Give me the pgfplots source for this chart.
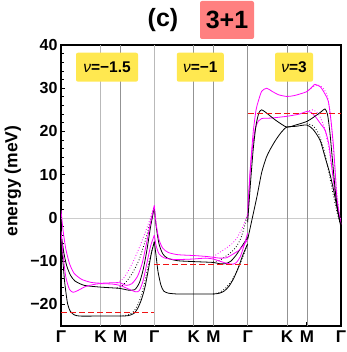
\documentclass[border=0pt]{standalone}
\usepackage{fontspec}
\setmainfont{Liberation Sans}
\usepackage{pgfplots}
\pgfplotsset{compat=1.18}
\definecolor{ybox}{RGB}{255,232,80}
\definecolor{rbox}{RGB}{255,128,128}
\definecolor{mag}{RGB}{255,0,255}
\definecolor{redd}{RGB}{240,20,20}
\begin{document}
\begin{tikzpicture}
\useasboundingbox (-61pt,-26pt) rectangle (285pt,326pt);
\begin{axis}[
  at={(0pt,0pt)}, anchor=south west,
  scale only axis, width=280pt, height=281pt,
  xmin=0, xmax=3, ymin=-25, ymax=40,
  xtick={0,0.4226,0.6340,1,1.4226,1.6340,2,2.4226,2.6340,3},
  xticklabels={Γ,K,M,Γ,K,M,Γ,K,M,Γ},
  ytick={-20,-10,0,10,20,30,40},
  yticklabels={−20,−10,0,10,20,30,40},
  minor y tick num=4,
  tick align=inside, ytick pos=left, xtick pos=bottom,
  major tick length=4pt, minor tick length=2.5pt,
  tick style={black, line width=0.8pt},
  yticklabel style={font=\fontsize{16}{19}\selectfont\bfseries},
  xticklabel style={font=\fontsize{17}{20}\selectfont\bfseries, yshift=-1pt},
  axis line style={black, line width=1.2pt},
  every axis plot/.append style={line width=0.8pt},
]
% reference lines
\addplot[gray!40, line width=0.6pt] coordinates {(0,0) (3,0)};
\addplot[gray!55, line width=1.1pt] coordinates {(0.4226,-25) (0.4226,40)};
\addplot[gray!85, line width=0.6pt] coordinates {(0.6340,-25) (0.6340,40)};
\addplot[gray!55, line width=1.1pt] coordinates {(1,-25) (1,40)};
\addplot[gray!85, line width=0.6pt] coordinates {(1.4226,-25) (1.4226,40)};
\addplot[gray!85, line width=0.6pt] coordinates {(1.6340,-25) (1.6340,40)};
\addplot[gray!85, line width=0.6pt] coordinates {(2,-25) (2,40)};
\addplot[gray!85, line width=0.6pt] coordinates {(2.4226,-25) (2.4226,40)};
\addplot[gray!85, line width=0.6pt] coordinates {(2.6340,-25) (2.6340,40)};
% ---------------- panel 1 ----------------
\addplot[black, smooth, tension=0.4] coordinates {
(0,-5.5) (0.02,-10) (0.04,-15) (0.07,-19.8) (0.1,-21.6) (0.14,-22.4) (0.2,-22.7) (0.42,-22.7) (0.63,-22.7) (0.72,-22.6) (0.78,-22.1) (0.82,-21) (0.86,-19) (0.9,-16) (0.94,-11.5) (0.97,-8) (1,-5.5)};
\addplot[black, dotted, smooth, tension=0.4] coordinates {
(0.63,-22.7) (0.72,-22.4) (0.78,-21.6) (0.82,-20.2) (0.86,-18) (0.9,-14.5) (0.94,-10.5) (1,-5.5)};
\addplot[black, smooth, tension=0.4] coordinates {
(0,-3.5) (0.03,-8) (0.06,-11) (0.1,-13.2) (0.15,-14.6) (0.25,-15.6) (0.42,-16) (0.63,-16.3) (0.72,-16.7) (0.79,-16.6) (0.84,-15) (0.88,-12) (0.92,-7.5) (0.96,-2) (1,2.5)};
\addplot[black, dotted, smooth, tension=0.4] coordinates {
(0.6,-16.2) (0.66,-15.6) (0.72,-14.2) (0.78,-12.2) (0.84,-9.5) (0.9,-5.5) (0.95,-1.5) (1,2.5)};
\addplot[mag, smooth, tension=0.4] coordinates {
(0,1.8) (0.02,-2.5) (0.05,-7) (0.09,-10.5) (0.14,-12.8) (0.22,-14.2) (0.32,-14.9) (0.42,-15.1) (0.55,-15) (0.63,-15) (0.7,-15.6) (0.76,-15.2) (0.82,-13.5) (0.87,-10.5) (0.92,-5.5) (0.96,-1) (1,2.9)};
\addplot[mag, smooth, tension=0.4] coordinates {
(0,-3) (0.02,-8) (0.05,-13.5) (0.09,-16.5) (0.13,-17.2) (0.18,-16.8) (0.26,-15.9) (0.35,-15.4) (0.42,-15.2) (0.55,-15.3) (0.63,-15.6) (0.72,-16.4) (0.8,-17.1) (0.84,-16.8) (0.88,-14.5) (0.92,-10.5) (0.96,-6.5) (1,-4)};
\addplot[mag, dotted, smooth, tension=0.4] coordinates {
(0.6,-15) (0.66,-14.2) (0.72,-12.3) (0.78,-9.8) (0.84,-6.8) (0.9,-3.5) (0.95,-0.5) (1,2.9)};
% ---------------- panel 2 ----------------
\addplot[black, smooth, tension=0.4] coordinates {
(1,-5.5) (1.02,-9) (1.04,-12.5) (1.07,-15.5) (1.1,-16.9) (1.15,-17.4) (1.25,-17.6) (1.42,-17.6) (1.63,-17.6) (1.7,-17.4) (1.75,-16.9) (1.8,-15.8) (1.85,-14) (1.9,-11.5) (1.95,-8.5) (2,-6)};
\addplot[black, dotted, smooth, tension=0.4] coordinates {
(1.63,-17.6) (1.7,-17.2) (1.76,-16.3) (1.82,-14.8) (1.88,-12.5) (1.94,-9.5) (2,-6)};
\addplot[black, smooth, tension=0.4] coordinates {
(1,2.2) (1.02,-2) (1.05,-6) (1.09,-8.3) (1.14,-9.3) (1.25,-9.9) (1.42,-10.1) (1.63,-10.3) (1.7,-10.6) (1.76,-10.6) (1.82,-10) (1.88,-8.5) (1.94,-6.5) (2,-4.5)};
\addplot[black, dotted, smooth, tension=0.4] coordinates {
(1.63,-10.2) (1.7,-9.8) (1.776,-8.7) (1.83,-7.8) (1.883,-6.5) (1.93,-4.5) (1.97,-1.6) (2,1)};
\addplot[mag, smooth, tension=0.4] coordinates {
(1,2.8) (1.02,-1.5) (1.05,-5) (1.09,-7) (1.15,-8) (1.25,-8.5) (1.42,-8.7) (1.55,-8.9) (1.63,-9.1) (1.7,-9.3) (1.776,-9.2) (1.84,-8.4) (1.9,-7.6) (1.95,-6.5) (2,-5)};
\addplot[mag, smooth, tension=0.4] coordinates {
(1,-4) (1.02,-6.5) (1.05,-8.3) (1.1,-9.2) (1.2,-9.6) (1.3,-9.6) (1.42,-9.5) (1.55,-9.3) (1.63,-9.5) (1.7,-10) (1.776,-10.5) (1.84,-10.7) (1.88,-10.3) (1.92,-9) (1.96,-6.5) (2,-3.5)};
\addplot[mag, dotted, smooth, tension=0.4] coordinates {
(1.63,-9) (1.704,-7.9) (1.77,-7) (1.83,-6) (1.88,-4.8) (1.917,-3.4) (1.96,-1.5) (2,1)};
% ---------------- panel 3 ----------------
\addplot[mag, smooth, tension=0.4] coordinates {
(2,2) (2.03,12) (2.06,20) (2.09,25) (2.114,27) (2.15,29.3) (2.204,30) (2.26,29.3) (2.33,28.5) (2.418,28.1) (2.5,28.3) (2.632,29.2) (2.69,30.3) (2.72,30.9) (2.78,30.3) (2.83,28.6) (2.864,27) (2.89,23) (2.918,17) (2.94,10) (2.954,5) (2.98,1) (3,-1.5)};
\addplot[mag, dotted, smooth, tension=0.4] coordinates {
(2.632,29.2) (2.7,30.3) (2.75,30.8) (2.8,30.2) (2.85,28.5) (2.885,24) (2.91,18) (2.94,10) (2.97,3) (3,-1.5)};
\addplot[mag, smooth, tension=0.4] coordinates {
(2,0) (2.025,10) (2.05,16) (2.08,20.5) (2.114,22.4) (2.15,23) (2.25,23.1) (2.418,23.5) (2.55,24) (2.632,24.6) (2.68,24.4) (2.73,23.3) (2.78,21.8) (2.83,20.3) (2.87,17) (2.9,12) (2.935,6) (2.97,1.5) (3,-1.5)};
\addplot[mag, dotted, smooth, tension=0.4] coordinates {
(2.632,24.6) (2.7,25) (2.76,24) (2.82,21) (2.87,16) (2.91,10) (2.95,4) (3,-1.5)};
\addplot[black, smooth, tension=0.4] coordinates {
(2,-1) (2.03,8) (2.06,16) (2.09,21.5) (2.12,24.3) (2.15,25) (2.2,24.3) (2.3,22.6) (2.418,21) (2.5,21.4) (2.632,22.3) (2.72,23.5) (2.79,24.6) (2.828,25.2) (2.855,24) (2.88,20) (2.91,13) (2.94,6) (2.97,1) (3,-2)};
\addplot[black, smooth, tension=0.4] coordinates {
(2,-5) (2.04,-1) (2.1,5) (2.15,10.5) (2.2,14) (2.24,15.8) (2.3,18) (2.36,19.8) (2.418,21) (2.52,21.2) (2.632,21.5) (2.7,20.5) (2.775,18) (2.83,14) (2.88,10.3) (2.92,6.5) (2.96,2) (3,-2)};
\addplot[black, dotted, smooth, tension=0.4] coordinates {
(2.632,21.8) (2.7,21.3) (2.76,19.5) (2.82,15.5) (2.87,10.5) (2.92,5) (2.96,1) (3,-2)};
% Fermi levels
\addplot[redd, dash pattern=on 6pt off 3pt, line width=1.3pt] coordinates {(0,-21.8) (1,-21.8)};
\addplot[redd, dash pattern=on 6pt off 3pt, line width=1.3pt] coordinates {(1,-10.8) (2,-10.8)};
\addplot[redd, dash pattern=on 6pt off 3pt, line width=1.3pt] coordinates {(2,24.1) (3,24.1)};
\end{axis}
% annotations
\node[fill=ybox, rounded corners=2pt, minimum width=62pt, minimum height=29pt, inner sep=0pt, font=\fontsize{15.5}{18}\selectfont] at (46pt,258.8pt) {\textit{ν}\textbf{=−1.5}};
\node[fill=ybox, rounded corners=2pt, minimum width=47pt, minimum height=29pt, inner sep=0pt, font=\fontsize{15.5}{18}\selectfont] at (139.3pt,258.8pt) {\textit{ν}\textbf{=−1}};
\node[fill=ybox, rounded corners=2pt, minimum width=38pt, minimum height=29pt, inner sep=0pt, font=\fontsize{15.5}{18}\selectfont] at (233pt,258.8pt) {\textit{ν}\textbf{=3}};
\node[rotate=90, font=\fontsize{17.5}{20}\selectfont\bfseries] at (-48pt,145pt) {energy (meV)};
\node[font=\fontsize{25}{29}\selectfont\bfseries] at (102pt,306pt) {(c)};
\node[fill=rbox, rounded corners=2pt, minimum width=54pt, minimum height=38pt, inner sep=0pt, font=\fontsize{25}{29}\selectfont\bfseries] at (166pt,306pt) {3+1};
\end{tikzpicture}
\end{document}
